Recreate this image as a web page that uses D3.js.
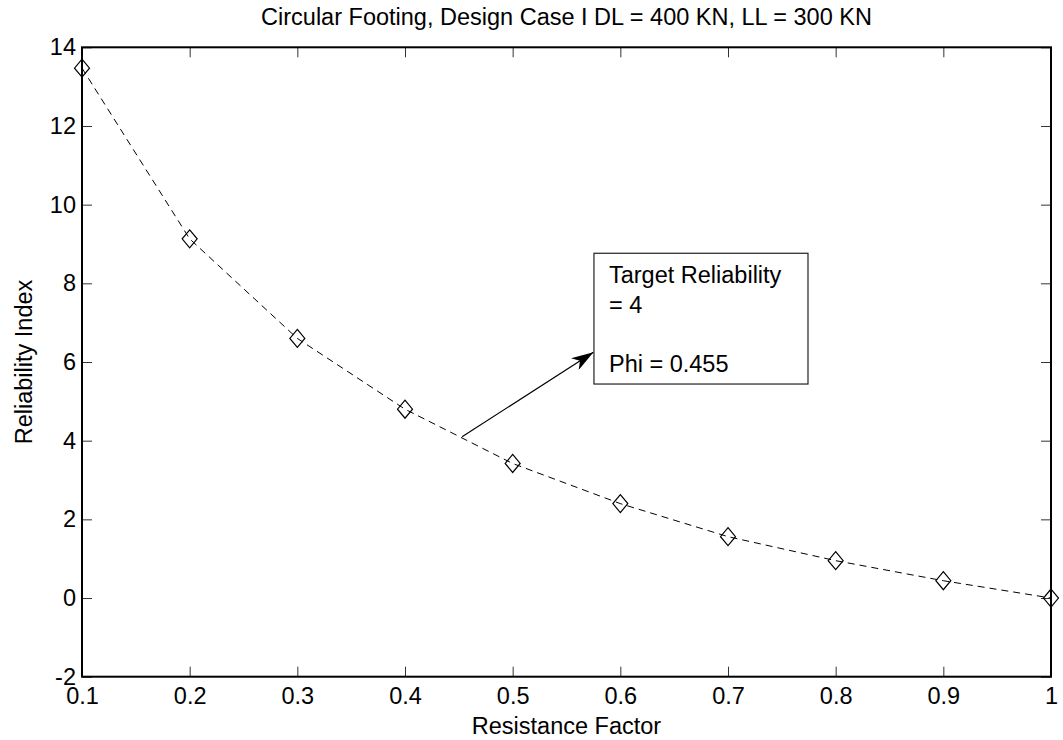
<!DOCTYPE html>
<html>
<head>
<meta charset="utf-8">
<script src="https://cdn.jsdelivr.net/npm/d3@7"></script>
<style>
  body { margin: 0; background: #fff; }
  svg { display: block; font-family: "Liberation Sans", Arial, Helvetica, sans-serif; }
  .tick text { font-size: 23.5px; fill: #000; }
</style>
</head>
<body>
<div id="chart"></div>
<script>
// data
var phi = [0.1, 0.2, 0.3, 0.4, 0.5, 0.6, 0.7, 0.8, 0.9, 1.0];
var beta = [13.47, 9.13, 6.60, 4.80, 3.42, 2.40, 1.56, 0.95, 0.44, 0.0];

var xTicks = [0.1, 0.2, 0.3, 0.4, 0.5, 0.6, 0.7, 0.8, 0.9, 1];
var yTicks = [-2, 0, 2, 4, 6, 8, 10, 12, 14];

var titleText = "Circular Footing, Design Case I DL = 400 KN, LL = 300 KN";
var xLabel = "Resistance Factor";
var yLabel = "Reliability Index";

// annotation (data units)
var arrowFrom = [0.453, 4.1];
var arrowTo = [0.575, 6.25];
var boxX = [0.5755, 0.7743];
var boxY = [8.764, 5.44];
var boxLines = ["Target Reliability", "= 4", "", "Phi = 0.455"];

var W = 1063, H = 740;
var fs = 23.5;
var margin = {top: 47.3, right: 12, bottom: 63.3, left: 82},
    w = W - margin.left - margin.right,
    h = H - margin.top - margin.bottom;

var x = d3.scaleLinear().domain([0.1, 1]).range([0, w]);
var y = d3.scaleLinear().domain([-2, 14]).range([h, 0]);

var svg = d3.select("#chart").append("svg")
    .attr("width", W)
    .attr("height", H);

var g = svg.append("g")
    .attr("transform", "translate(" + margin.left + "," + margin.top + ")");

// axes, ticks pointing inward like matlab
var tickLen = 10;
// plain hyphen for negatives, as matlab prints them
var fmt = function(d) { return String(+d.toFixed(2)); };

g.append("g")
    .attr("class", "x axis")
    .attr("transform", "translate(0," + h + ")")
    .call(d3.axisBottom(x).tickValues(xTicks).tickFormat(fmt).tickSizeInner(-tickLen).tickSizeOuter(0).tickPadding(11));

g.append("g")
    .attr("class", "x axis top")
    .call(d3.axisTop(x).tickValues(xTicks).tickFormat("").tickSizeInner(-tickLen).tickSizeOuter(0));

g.append("g")
    .attr("class", "y axis")
    .call(d3.axisLeft(y).tickValues(yTicks).tickFormat(fmt).tickSizeInner(-tickLen).tickSizeOuter(0).tickPadding(6));

g.append("g")
    .attr("class", "y axis right")
    .attr("transform", "translate(" + w + ",0)")
    .call(d3.axisRight(y).tickValues(yTicks).tickFormat("").tickSizeInner(-tickLen).tickSizeOuter(0));

g.selectAll(".axis .domain").remove();
g.selectAll(".axis .tick line").attr("stroke", "#333").attr("stroke-width", 1);

// box
g.append("rect")
    .attr("x", 0).attr("y", 0)
    .attr("width", w).attr("height", h)
    .attr("fill", "none")
    .attr("stroke", "#000")
    .attr("stroke-width", 2);

// dashed curve
var line = d3.line()
    .x(function(d, i) { return x(phi[i]); })
    .y(function(d) { return y(d); });

g.append("path")
    .datum(beta)
    .attr("d", line)
    .attr("fill", "none")
    .attr("stroke", "#000")
    .attr("stroke-width", 1)
    .attr("stroke-dasharray", "7,5");

// diamond markers
var mw = 7.5, mh = 9;
g.selectAll(".marker")
    .data(beta)
    .enter().append("path")
    .attr("class", "marker")
    .attr("d", function(d, i) {
      var cx = x(phi[i]), cy = y(d);
      return "M" + cx + "," + (cy - mh) + "L" + (cx + mw) + "," + cy +
             "L" + cx + "," + (cy + mh) + "L" + (cx - mw) + "," + cy + "Z";
    })
    .attr("fill", "none")
    .attr("stroke", "#000")
    .attr("stroke-width", 1.2);

// arrow
svg.append("defs").append("marker")
    .attr("id", "head")
    .attr("viewBox", "0 0 22 14")
    .attr("refX", 22).attr("refY", 7)
    .attr("markerWidth", 22).attr("markerHeight", 14)
    .attr("markerUnits", "userSpaceOnUse")
    .attr("orient", "auto")
    .append("path")
    .attr("d", "M0,0L22,7L0,14L6,7Z")
    .attr("fill", "#000");

g.append("line")
    .attr("x1", x(arrowFrom[0])).attr("y1", y(arrowFrom[1]))
    .attr("x2", x(arrowTo[0])).attr("y2", y(arrowTo[1]))
    .attr("stroke", "#000")
    .attr("stroke-width", 1.2)
    .attr("marker-end", "url(#head)");

// text box
g.append("rect")
    .attr("x", x(boxX[0])).attr("y", y(boxY[0]))
    .attr("width", x(boxX[1]) - x(boxX[0]))
    .attr("height", y(boxY[1]) - y(boxY[0]))
    .attr("fill", "#fff")
    .attr("stroke", "#222")
    .attr("stroke-width", 1.2);

g.selectAll(".boxtext")
    .data(boxLines)
    .enter().append("text")
    .attr("class", "boxtext")
    .attr("x", x(boxX[0]) + 15)
    .attr("y", function(d, i) { return y(boxY[0]) + 30 + i * 29.5; })
    .attr("font-size", fs)
    .text(function(d) { return d; });

// labels
svg.append("text")
    .attr("x", margin.left + w / 2)
    .attr("y", 25)
    .attr("text-anchor", "middle")
    .attr("font-size", fs)
    .text(titleText);

svg.append("text")
    .attr("x", margin.left + w / 2)
    .attr("y", 734)
    .attr("text-anchor", "middle")
    .attr("font-size", fs)
    .text(xLabel);

svg.append("text")
    .attr("transform", "translate(32," + (margin.top + h / 2) + ") rotate(-90)")
    .attr("text-anchor", "middle")
    .attr("font-size", fs)
    .text(yLabel);
</script>
</body>
</html>
